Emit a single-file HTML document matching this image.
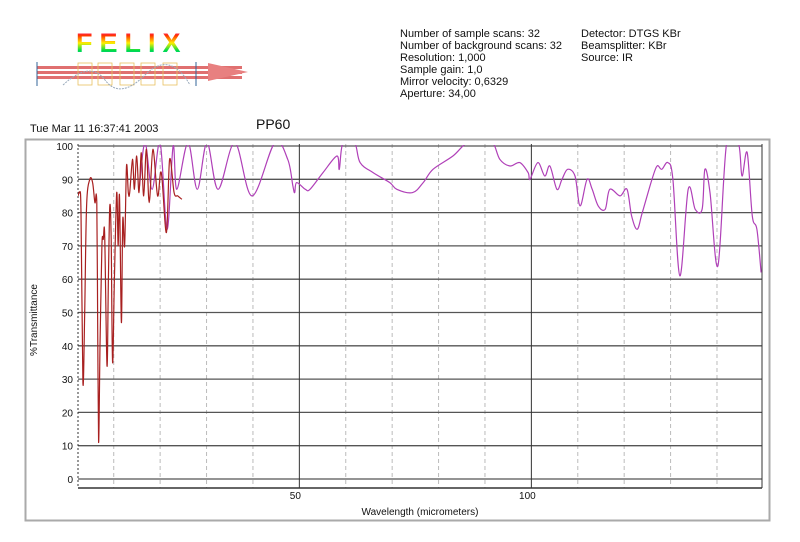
<!DOCTYPE html>
<html><head><meta charset="utf-8"><style>
body{margin:0;background:#fff;}
svg{display:block;font-family:"Liberation Sans",Arial,sans-serif;}
</style></head><body>
<svg id="chart" width="800" height="542" viewBox="0 0 800 542">
<defs>
<linearGradient id="rb" x1="0" y1="0" x2="0" y2="1">
<stop offset="0" stop-color="#ff00ff"/><stop offset="0.25" stop-color="#ff3300"/><stop offset="0.5" stop-color="#ffee00"/><stop offset="0.75" stop-color="#00dd44"/><stop offset="1" stop-color="#00aaff"/>
</linearGradient>
<clipPath id="pc"><rect x="78" y="145" width="684" height="343"/></clipPath>
</defs>
<g>
<text x="76" y="52" font-size="27" font-weight="bold" letter-spacing="7" fill="url(#rb)">FELIX</text>
<g fill="#e07070"><rect x="37" y="66" width="205" height="3"/><rect x="37" y="71" width="205" height="3"/><rect x="37" y="76" width="205" height="3"/></g>
<polygon points="208,63 248,72 208,81" fill="#e88080"/>
<line x1="37" y1="62" x2="37" y2="86" stroke="#336699"/>
<line x1="196" y1="62" x2="196" y2="86" stroke="#336699"/>
<g fill="none" stroke="#e8c060" stroke-width="0.8"><rect x="78" y="63" width="14" height="22"/><rect x="98" y="63" width="14" height="22"/><rect x="120" y="63" width="14" height="22"/><rect x="141" y="63" width="14" height="22"/><rect x="163" y="63" width="14" height="22"/></g>
<path d="M63 85 Q90 60 105 80 T145 75 T190 85" fill="none" stroke="#9ab" stroke-dasharray="2 1"/>
</g>
<g font-size="11" fill="#111">
<text x="400" y="37">Number of sample scans:  32</text>
<text x="400" y="49">Number of background scans:  32</text>
<text x="400" y="61">Resolution:   1,000</text>
<text x="400" y="73">Sample gain:  1,0</text>
<text x="400" y="85">Mirror velocity:  0,6329</text>
<text x="400" y="97">Aperture:  34,00</text>
<text x="581" y="37">Detector:  DTGS KBr</text>
<text x="581" y="49">Beamsplitter:  KBr</text>
<text x="581" y="61">Source:  IR</text>
</g>
<text x="30" y="132" font-size="11" fill="#111">Tue Mar 11 16:37:41 2003</text>
<text x="256" y="129" font-size="14" fill="#111">PP60</text>
<rect x="25.5" y="139.5" width="744" height="381" fill="#fff" stroke="#aaa" stroke-width="2"/>
<g id="grid"></g>
<g id="series" clip-path="url(#pc)"></g>
<g id="labels" font-size="10" fill="#111"></g>
<text x="420" y="515" font-size="10" text-anchor="middle" fill="#111">Wavelength (micrometers)</text>
<text transform="translate(37,320) rotate(-90)" font-size="10" text-anchor="middle" fill="#111">%Transmittance</text>
</svg>
<script>
const yTicks=[0,10,20,30,40,50,60,70,80,90,100];
const xMajor=[50,100];
const xMinor=[10,20,30,40,60,70,80,90,110,120,130,140];
const redX=[2.3,2.65,2.95,3.35,3.75,4.15,4.85,5.45,5.95,6.35,6.55,6.75,7.05,7.45,7.75,8.05,8.55,8.85,9.15,9.45,9.75,10.15,10.65,10.95,11.25,11.65,11.95,12.35,12.75,13.15,13.45,14.05,14.45,14.95,15.45,15.95,16.45,17.05,17.65,18.45,19.45,20.25,21.35,22.05,23.0,23.8,24.7];
const redY=[85,86,80,29,50,82,90,89,83,83,45,11,40,70,72,73,34,60,82,72,35,60,86,70,85,47,78,70,94,86,86,96,87,97,86,98,85,99,83,99,85,92,74,96,86,85,84];
const magX=[15.55,16.76,18.27,20.0,21.5,22.8,23.6,26.0,28.0,30.1,32.5,36.1,39.8,44.7,47.5,48.6,49.0,49.4,51.3,52.3,55.1,58.1,58.6,59.4,61.9,63.1,65.9,69.5,71.0,74.4,76.7,78.8,83.1,86.2,89.6,91.7,93.2,95.4,97.5,99.3,99.7,101.4,102.9,104.0,105.5,106.6,107.8,109.4,110.5,112.0,113.1,114.4,115.9,116.9,119.1,120.6,121.6,122.8,123.9,126.0,127.1,128.1,129.4,130.5,132.0,133.8,135.3,136.8,137.4,138.5,140.2,142.1,144.6,145.4,146.5,147.6,148.6,149.5];
const magY=[88,101,87,101,75,100,87,101,87,101,87,101,85,101,96,88,86,89,87,87,92,97,93,101,101,95,92,89,87,86,89,93,97,101,101,101,96,94,95,92,90,95,91,94,87,90,93,91,82,90,87,82,81,87,85,87,79,75,80,90,94,93,95,90,61,87,81,81,93,86,64,101,101,91,98,79,75,62];
const X0=2.3,X1=149.7,PX0=78,PX1=762,PY0=479,PYS=3.33;
function sx(v){return PX0+(v-X0)/(X1-X0)*(PX1-PX0);}
function sy(v){return PY0-v*PYS;}
const NS="http://www.w3.org/2000/svg";
function mk(t,a,p){const e=document.createElementNS(NS,t);for(const k in a)e.setAttribute(k,a[k]);p.appendChild(e);return e;}
const grid=document.getElementById('grid'),labels=document.getElementById('labels'),ser=document.getElementById('series');
xMinor.forEach(v=>{const l=mk('line',{x1:sx(v),x2:sx(v),y1:144,y2:488,stroke:'#bbb','stroke-dasharray':'4 3'},grid);

});
yTicks.forEach(v=>{const l=mk('line',{x1:78,x2:762,y1:sy(v),y2:sy(v),stroke:'#555','stroke-width':1.3},grid);


const t=mk('text',{x:73,y:sy(v)+4,'text-anchor':'end'},labels);t.textContent=v;

});
xMajor.forEach(v=>{const l=mk('line',{x1:sx(v),x2:sx(v),y1:144,y2:488,stroke:'#333'},grid);


const t=mk('text',{x:sx(v)-4,y:499,'text-anchor':'middle'},labels);t.textContent=v;

});
const ax=mk('line',{x1:78,x2:762,y1:488,y2:488,stroke:'#333','stroke-width':1.5},grid);


const ay=mk('line',{x1:78,x2:78,y1:144,y2:488,stroke:'#333','stroke-dasharray':'2 2'},grid);


const rt=mk('line',{x1:762,x2:762,y1:144,y2:488,stroke:'#333'},grid);


function path(xs,ys){
  const P=xs.map((x,i)=>[sx(x),sy(ys[i])]);
  let d='M'+P[0][0].toFixed(1)+' '+P[0][1].toFixed(1);
  for(let i=0;i<P.length-1;i++){
    const p0=P[Math.max(i-1,0)],p1=P[i],p2=P[i+1],p3=P[Math.min(i+2,P.length-1)];
    const c1=[p1[0]+(p2[0]-p0[0])/6,p1[1]+(p2[1]-p0[1])/6];
    const c2=[p2[0]-(p3[0]-p1[0])/6,p2[1]-(p3[1]-p1[1])/6];
    d+=' C'+c1[0].toFixed(1)+' '+c1[1].toFixed(1)+' '+c2[0].toFixed(1)+' '+c2[1].toFixed(1)+' '+p2[0].toFixed(1)+' '+p2[1].toFixed(1);
  }
  return d;}
const m=mk('path',{d:path(magX,magY),fill:'none',stroke:'#b040b8','stroke-width':1.2},ser);


const r=mk('path',{d:path(redX,redY),fill:'none',stroke:'#a82020','stroke-width':1.2},ser);


</script>
</body></html>
